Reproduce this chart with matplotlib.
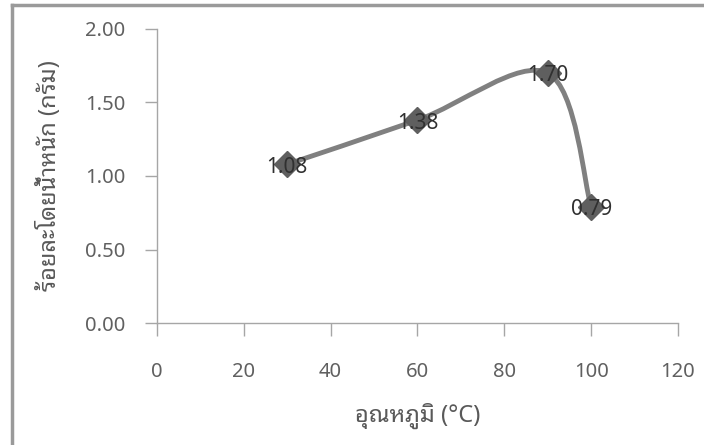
import numpy as np
import matplotlib
matplotlib.use('Agg')
import matplotlib.pyplot as plt
from matplotlib.path import Path
from matplotlib.patches import PathPatch
from matplotlib.lines import Line2D

plt.rcParams['font.family'] = ['Noto Sans Thai Looped', 'Open Sans', 'DejaVu Sans']
plt.rcParams['font.weight'] = 'light'

# ข้อมูล
temps = [30, 60, 90, 100]
weights = [1.08, 1.38, 1.70, 0.79]
labels = ['1.08', '1.38', '1.70', '0.79']
xticks = [0, 20, 40, 60, 80, 100, 120]
yticks = [0.00, 0.50, 1.00, 1.50, 2.00]

fig = plt.figure(figsize=(7.04, 4.45), dpi=100)
ax = fig.add_axes([0.223, 0.274, 0.74, 0.661])

# smooth line (Excel style bezier)
x = np.array(temps, dtype=float)
y = np.array(weights, dtype=float)
n = len(x)
verts = [(x[0], y[0])]
codes = [Path.MOVETO]
for i in range(n - 1):
    p0 = np.array([x[max(i - 1, 0)], y[max(i - 1, 0)]])
    p1 = np.array([x[i], y[i]])
    p2 = np.array([x[i + 1], y[i + 1]])
    p3 = np.array([x[min(i + 2, n - 1)], y[min(i + 2, n - 1)]])
    c1 = p1 + (p2 - p0) / 6
    c2 = p2 - (p3 - p1) / 6
    verts += [tuple(c1), tuple(c2), tuple(p2)]
    codes += [Path.CURVE4] * 3
ax.add_patch(PathPatch(Path(verts, codes), facecolor='none', edgecolor='#808080',
                       lw=3.5, capstyle='round', joinstyle='round', zorder=2))

ax.plot(temps, weights, linestyle='none', marker='D', markersize=13,
        color='#5f5f5f', zorder=3)

for xi, yi, lab in zip(temps, weights, labels):
    ax.text(xi, yi - 0.02, lab, ha='center', va='center', fontsize=15, color='#303030', zorder=4)

ax.set_xlim(0, 120)
ax.set_ylim(0, 2.0)
ax.set_xticks(xticks)
ax.set_yticks(yticks)
ax.set_xticklabels([str(t) for t in xticks])
ax.set_yticklabels([f'{t:.2f}' for t in yticks])

for s in ['top', 'right']:
    ax.spines[s].set_visible(False)
for s in ['left', 'bottom']:
    ax.spines[s].set_color('#a6a6a6')
    ax.spines[s].set_linewidth(1.0)
ax.tick_params(direction='out', length=9, width=1.0, color='#a6a6a6',
               labelsize=14.5, labelcolor='#606060')
ax.tick_params(axis='y', pad=14)
ax.tick_params(axis='x', pad=19)

ax.set_xlabel('อุณหภูมิ (°C)', fontsize=17, color='#595959', labelpad=15)
ax.set_ylabel('ร้อยละโดยน้ำหนัก (กรัม)', fontsize=17, color='#595959', labelpad=16)

# outer frame (top and left only visible)
fig.add_artist(Line2D([0.017, 1.0], [0.989, 0.989], transform=fig.transFigure,
                      color='#9a9a9a', lw=2.5))
fig.add_artist(Line2D([0.017, 0.017], [0.0, 0.989], transform=fig.transFigure,
                      color='#9a9a9a', lw=2.5))

fig.savefig('out.png', dpi=100)
